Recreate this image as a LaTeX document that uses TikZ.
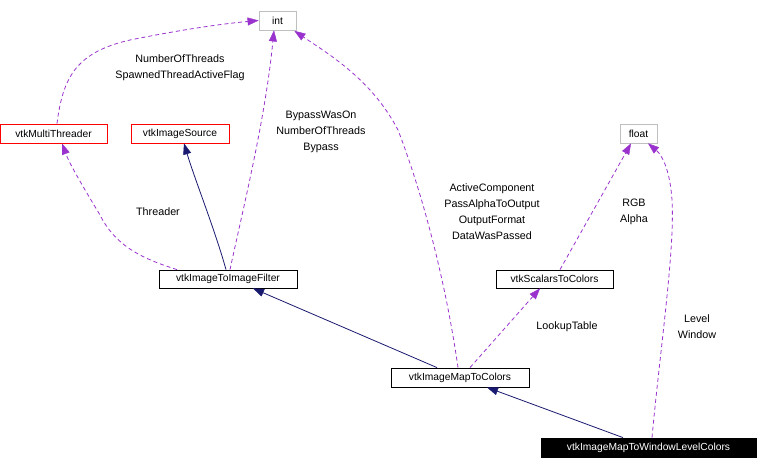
\documentclass[tikz,border=0pt]{standalone}
\usepackage{fontspec}
\setmainfont{Liberation Sans}
\usetikzlibrary{arrows.meta}
\definecolor{edgepurple}{HTML}{9A32CD}
\definecolor{edgenavy}{HTML}{191970}
\definecolor{boxgrey}{HTML}{BFBFBF}
\tikzset{
  cls/.style={draw=black, fill=white, inner sep=0pt, font=\fontsize{10.3}{12}\selectfont, line width=0.8bp},
  redcls/.style={cls, draw=red},
  greycls/.style={cls, draw=boxgrey},
  blackcls/.style={cls, fill=black, text=white},
  usage/.style={draw=edgepurple, dash pattern=on 4bp off 3bp, line width=0.8bp, -{Triangle[length=11bp,width=8bp,fill=edgepurple,line width=0.4bp]}, edgepurple},
  inherit/.style={draw=edgenavy, line width=0.8bp, -{Triangle[length=11bp,width=8bp,fill=edgenavy,line width=0.4bp]}, edgenavy},
  lbl/.style={font=\fontsize{10.8}{16}\selectfont, align=center, inner sep=0pt},
}
\begin{document}
\begin{tikzpicture}[x=1bp,y=-1bp]
\useasboundingbox (0,0) rectangle (757,469);
% nodes
\node[greycls, minimum width=37bp, minimum height=19bp] (int) at (277.5,20.5) {int};
\node[redcls, minimum width=107bp, minimum height=19bp] (mt) at (53.5,133.5) {vtkMultiThreader};
\node[redcls, minimum width=98bp, minimum height=19bp] (src) at (180,133.5) {vtkImageSource};
\node[greycls, minimum width=37bp, minimum height=19bp] (float) at (638.5,133.5) {float};
\node[cls, minimum width=138bp, minimum height=18bp] (iif) at (228,279) {vtkImageToImageFilter};
\node[cls, minimum width=117bp, minimum height=18bp] (stc) at (554.5,279) {vtkScalarsToColors};
\node[cls, minimum width=138bp, minimum height=19bp] (imc) at (460,377.5) {vtkImageMapToColors};
\node[blackcls, minimum width=215bp, minimum height=19bp] (wl) at (648.5,447.5) {vtkImageMapToWindowLevelColors};
% anchor points
\coordinate (mtTop) at ([xshift=3.5bp]mt.north);
\coordinate (mtBot) at ([xshift=8.5bp]mt.south);
\coordinate (iifA) at ([xshift=-51bp]iif.north);
\coordinate (iifB) at ([xshift=-2bp]iif.north);
\coordinate (iifC) at ([xshift=2bp]iif.north);
\coordinate (iifBot) at ([xshift=25bp]iif.south);
\coordinate (srcBot) at ([xshift=4bp]src.south);
\coordinate (intBot) at ([xshift=-3.5bp]int.south);
\coordinate (intBR) at ([xshift=-2bp,yshift=-0.5bp]int.south east);
\coordinate (imcA) at ([xshift=-23bp]imc.north);
\coordinate (imcB) at ([xshift=-2bp]imc.north);
\coordinate (imcC) at ([xshift=10bp]imc.north);
\coordinate (imcBot) at ([xshift=27bp]imc.south);
\coordinate (stcTop) at ([xshift=5.5bp]stc.north);
\coordinate (stcBot) at ([xshift=-14.5bp]stc.south);
\coordinate (floatA) at ([xshift=-7.5bp]float.south);
\coordinate (floatB) at ([xshift=9.5bp]float.south);
\coordinate (wlA) at ([xshift=-25.5bp]wl.north);
\coordinate (wlB) at ([xshift=3.5bp]wl.north);
% edges
\draw[usage] (mtTop) .. controls (63,75) and (78,52) .. (130,40) .. controls (180,30) and (220,24) .. (int.west);
\draw[usage] (iifA) .. controls (140,258) and (115,245) .. (100,215) .. controls (85,190) and (70,165) .. (mtBot);
\draw[inherit] (iifB) .. controls (215,230) and (195,180) .. (srcBot);
\draw[usage] (iifC) .. controls (245,200) and (265,120) .. (intBot);
\draw[inherit] (imcA) -- (iifBot);
\draw[usage] (imcB) .. controls (447,290) and (425,200) .. (398,130) .. controls (372,80) and (330,55) .. (intBR);
\draw[usage] (imcC) -- (stcBot);
\draw[usage] (stcTop) -- (floatA);
\draw[usage] (wlB) .. controls (660,350) and (675,250) .. (672,200) .. controls (670,170) and (662,155) .. (floatB);
\draw[inherit] (wlA) -- (imcBot);
% labels
\node[lbl] (l1) at (180,68) {NumberOfThreads\\SpawnedThreadActiveFlag};
\node[lbl] (l2) at (158,212) {Threader};
\node[lbl] (l3) at (321,132) {BypassWasOn\\NumberOfThreads\\Bypass};
\node[lbl] (l4) at (492,212) {ActiveComponent\\PassAlphaToOutput\\OutputFormat\\DataWasPassed};
\node[lbl] (l5) at (567,327) {LookupTable};
\node[lbl] (l6) at (634,212) {RGB\\Alpha};
\node[lbl] (l7) at (697,327) {Level\\Window};
\end{tikzpicture}
\end{document}
